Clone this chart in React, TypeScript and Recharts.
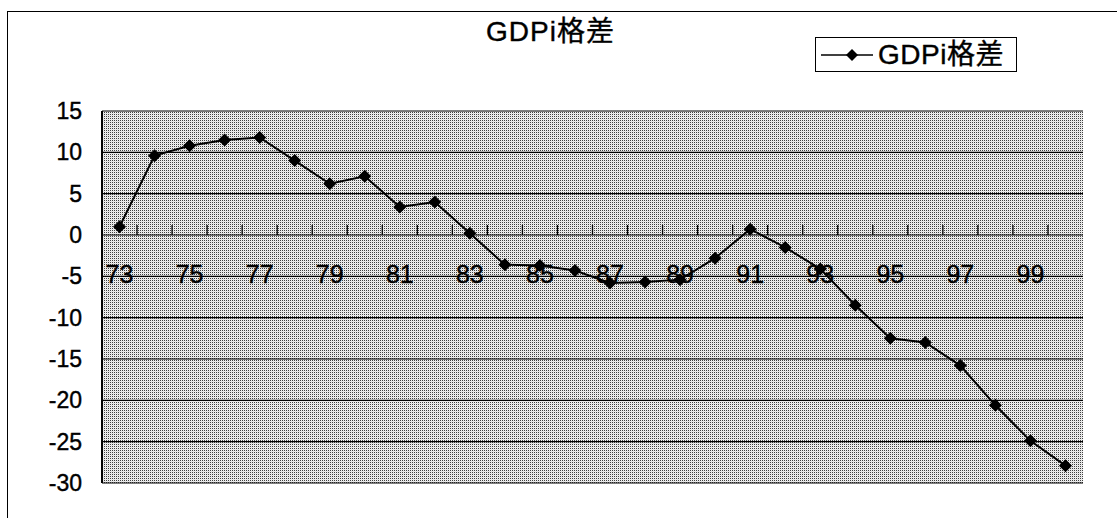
import React from 'react';
import {
  ComposedChart,
  Line,
  Scatter,
  XAxis,
  YAxis,
  CartesianGrid,
  Legend,
} from 'recharts';

// ---- data ----
const years = [73, 74, 75, 76, 77, 78, 79, 80, 81, 82, 83, 84, 85, 86, 87, 88, 89, 90, 91, 92, 93, 94, 95, 96, 97, 98, 99, 100];
const gdpiGap = [1.0, 9.6, 10.8, 11.5, 11.8, 9.0, 6.2, 7.1, 3.4, 4.0, 0.2, -3.6, -3.7, -4.3, -5.8, -5.7, -5.4, -2.8, 0.7, -1.5, -4.1, -8.5, -12.5, -13.0, -15.8, -20.6, -24.9, -27.9];
const xTickLabels = ['73', '75', '77', '79', '81', '83', '85', '87', '89', '91', '93', '95', '97', '99'];
const yTicks = [-30, -25, -20, -15, -10, -5, 0, 5, 10, 15];
const seriesName = 'GDPi格差';
const chartTitle = 'GDPi格差';

// ---- style / layout constants ----
const FONT = '"Liberation Sans", Arial, "Noto Sans CJK JP", sans-serif';
const CHART_W = 1117;
const CHART_H = 518;
const MARGIN = { top: 111, right: 34, bottom: 35, left: 0 };
const Y_AXIS_W = 102;
const Y_MIN = -30;
const Y_MAX = 15;
const PLOT_W = CHART_W - MARGIN.left - MARGIN.right - Y_AXIS_W;
const PLOT_H = CHART_H - MARGIN.top - MARGIN.bottom;
const HALF_BAND = PLOT_W / years.length / 2; // tick marks sit between categories
const PX_PER_UNIT = PLOT_H / (Y_MAX - Y_MIN);
const LABEL_LEVEL = -5; // category labels sit on the -5 gridline, as in the original
const AXIS_CROSS = 0; // category axis crosses the value axis at 0
const TICK_LEN = 10;

const data = years.map((year, i) => ({ year, gap: gdpiGap[i] }));
const labelData = xTickLabels.map((lab) => ({ year: Number(lab), level: LABEL_LEVEL, text: lab }));

const Diamond = (props: any) => {
  const { cx, cy } = props;
  if (cx == null || cy == null || isNaN(cx) || isNaN(cy)) return null;
  const s = 6.5;
  return <path d={`M${cx},${cy - s}L${cx + s},${cy}L${cx},${cy + s}L${cx - s},${cy}Z`} fill="#000" stroke="none" />;
};

// Category label plus the two category-boundary tick marks on either side of it,
// standing on the zero line (where the category axis crosses).
const CatLabel = (props: any) => {
  const cx = Number(props.cx);
  const cy = Number(props.cy);
  const payload = props.payload;
  if (isNaN(cx) || isNaN(cy)) return <g />;
  const zeroY = cy - (AXIS_CROSS - LABEL_LEVEL) * PX_PER_UNIT;
  const isFirst = payload && payload.text === xTickLabels[0];
  const leftX = cx - HALF_BAND;
  const rightX = cx + HALF_BAND;
  const d =
    (isFirst ? '' : `M${leftX},${zeroY}V${zeroY - TICK_LEN}`) +
    `M${rightX},${zeroY}V${zeroY - TICK_LEN}`;
  return (
    <g>
      <path d={d} stroke="#000" strokeWidth={1.3} fill="none" />
      <text
        x={cx}
        y={cy - 2}
        textAnchor="middle"
        dominantBaseline="central"
        fill="#000"
        stroke="#000"
        strokeWidth={0.4}
        fontSize={25}
        fontFamily={FONT}
      >
        {payload && payload.text}
      </text>
    </g>
  );
};

const LegendBox = () => (
  <div
    style={{
      border: '1.5px solid #000',
      background: '#fff',
      display: 'flex',
      alignItems: 'center',
      height: 35,
      width: 202,
      boxSizing: 'border-box',
      paddingLeft: 5,
    }}
  >
    <svg width={52} height={16} style={{ display: 'block', flex: 'none' }}>
      <line x1={0} y1={8} x2={52} y2={8} stroke="#000" strokeWidth={1.5} />
      <path d="M31,2L37,8L31,14L25,8Z" fill="#000" />
    </svg>
    <span
      style={{
        fontSize: 28,
        fontFamily: FONT,
        marginLeft: 5,
        color: '#000',
        lineHeight: '30px',
        letterSpacing: 0.5,
        whiteSpace: 'nowrap',
        WebkitTextStroke: '0.4px #000',
      }}
    >
      {seriesName}
    </span>
  </div>
);

export default function App() {
  return (
    <div style={{ position: 'absolute', left: 0, top: 0, width: CHART_W, height: CHART_H, overflow: 'hidden', background: '#fff' }}>
      <div
        style={{
          position: 'absolute',
          left: 7,
          top: 11,
          width: 1300,
          height: 700,
          borderLeft: '1.5px solid #000',
          borderTop: '1.5px solid #000',
        }}
      />
      <div style={{ position: 'absolute', left: 0, top: 0 }}>
        <ComposedChart width={CHART_W} height={CHART_H} data={data} margin={MARGIN}>
          <defs>
            <pattern id="plotPattern" width={2} height={2} patternUnits="userSpaceOnUse">
              <rect x={0} y={0} width={2} height={2} fill="#f0f0f0" />
              <rect x={0} y={0} width={1} height={1} fill="#404040" />
              <rect x={1} y={1} width={1} height={1} fill="#e0e0e0" />
            </pattern>
          </defs>
          <CartesianGrid vertical={false} stroke="#000" strokeWidth={1.2} fill="url(#plotPattern)" fillOpacity={1} />
          <XAxis dataKey="year" type="number" domain={[72.5, 100.5]} hide allowDataOverflow />
          <YAxis
            type="number"
            domain={[Y_MIN, Y_MAX]}
            ticks={yTicks}
            interval={0}
            width={Y_AXIS_W}
            tickSize={0}
            tickMargin={20}
            tickLine={false}
            axisLine={{ stroke: '#000', strokeWidth: 2 }}
            tick={{ fill: '#000', fontSize: 23, fontFamily: FONT, stroke: '#000', strokeWidth: 0.4 }}
            allowDataOverflow
          />
          <YAxis
            yAxisId="right"
            orientation="right"
            type="number"
            domain={[Y_MIN, Y_MAX]}
            width={0}
            tick={false}
            tickLine={false}
            axisLine={{ stroke: '#000', strokeWidth: 2 }}
          />
          <Scatter
            data={labelData}
            dataKey="level"
            shape={<CatLabel />}
            legendType="none"
            isAnimationActive={false}
          />
          <Line
            dataKey="gap"
            name={seriesName}
            stroke="#000"
            strokeWidth={2}
            dot={<Diamond />}
            activeDot={false}
            isAnimationActive={false}
          />
          <Legend
            layout="horizontal"
            verticalAlign="middle"
            align="center"
            wrapperStyle={{ left: 815, top: 37, width: 'auto', height: 'auto' }}
            content={() => <LegendBox />}
          />
        </ComposedChart>
      </div>
      <div
        style={{
          position: 'absolute',
          left: 486,
          top: 17,
          fontSize: 28,
          fontFamily: FONT,
          color: '#000',
          lineHeight: '30px',
          letterSpacing: 1,
          whiteSpace: 'nowrap',
          WebkitTextStroke: '0.4px #000',
        }}
      >
        {chartTitle}
      </div>
    </div>
  );
}
